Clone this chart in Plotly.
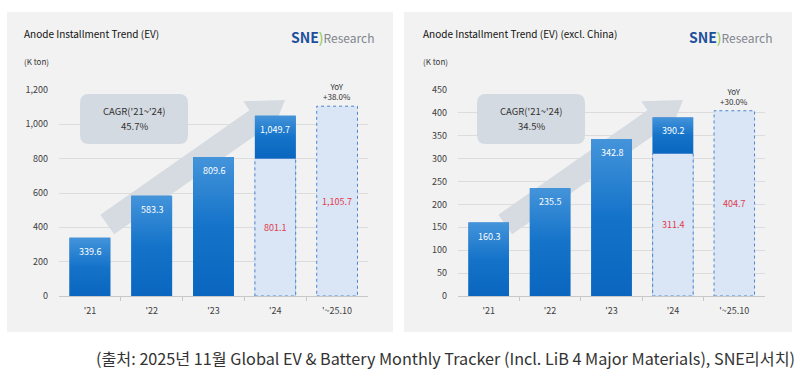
import math
import plotly.graph_objects as go

# ---------------- data ----------------
categories = ["'21", "'22", "'23", "'24", "'~25.10"]

ev_total = [339.6, 583.3, 809.6, 1049.7]      # '21 - '24 full year
ev_ytd = [801.1, 1105.7]                      # '24 (Jan-Oct), '25 (Jan-Oct)
ev_cagr = "45.7%"
ev_yoy = "+38.0%"
ev_yticks = [0, 200, 400, 600, 800, 1000, 1200]

exc_total = [160.3, 235.5, 342.8, 390.2]
exc_ytd = [311.4, 404.7]
exc_cagr = "34.5%"
exc_yoy = "+30.0%"
exc_yticks = [0, 50, 100, 150, 200, 250, 300, 350, 400, 450]

titles = ["Anode Installment Trend (EV)", "Anode Installment Trend (EV) (excl. China)"]
unit_label = "(K ton)"
cagr_label = "CAGR('21~'24)"
source_text = "(출처: 2025년 11월 Global EV & Battery Monthly Tracker (Incl. LiB 4 Major Materials), SNE리서치)"

# ---------------- style ----------------
W, H = 800, 378
FONT = "Noto Sans CJK KR"
BAR_W = 0.66
DARK = "#1270c6"
LIGHT = "#dae5f5"
OUTLINE = "#4a86cf"
RED = "#e23b4a"
PANEL = "#f2f2f2"
GRID = "#dcdcdc"
ARROW = "#d5dbe0"
BOX = "#d3dae1"


def pxx(x):
    return x / W


def pxy(y):
    return 1 - y / H


Y_TOP, Y_BOT = 90, 296
panels = [
    dict(xa="x", ya="y", dom=(59, 368), total=ev_total, ytd=ev_ytd, ymax=ev_yticks[-1],
         yticks=ev_yticks, cagr=ev_cagr, yoy=ev_yoy, off=0),
    dict(xa="x2", ya="y2", dom=(458, 765), total=exc_total, ytd=exc_ytd, ymax=exc_yticks[-1],
         yticks=exc_yticks, cagr=exc_cagr, yoy=exc_yoy, off=398),
]

fig = go.Figure()
shapes = []
annotations = []


def note(x, y, text, size, color="#333333", xanchor="center"):
    annotations.append(dict(x=pxx(x), y=pxy(y), xref="paper", yref="paper", text=text,
                            showarrow=False, xanchor=xanchor, yanchor="middle",
                            font=dict(family=FONT, size=size, color=color)))


# panel backgrounds
for x0, x1 in [(7, 393), (404, 792)]:
    shapes.append(dict(type="rect", xref="paper", yref="paper", x0=pxx(x0), x1=pxx(x1),
                       y0=pxy(332), y1=pxy(12), fillcolor=PANEL, line_width=0, layer="below"))

for k, p in enumerate(panels):
    xa, ya = p["xa"], p["ya"]
    n_tot = len(p["total"])
    tot_x = list(range(n_tot))
    ytd_x = [n_tot - 1, n_tot]

    def to_data(X, Y, p=p):
        d0, d1 = p["dom"]
        return (-0.5 + (X - d0) / (d1 - d0) * len(categories),
                (Y_BOT - Y) / (Y_BOT - Y_TOP) * p["ymax"])

    # arrow (decoration) defined in pixels relative to panel, converted to data coords
    ang = math.radians(35)
    d = (math.cos(ang), -math.sin(ang))
    pp = (math.sin(ang), math.cos(ang))
    T = (285 + p["off"], 100)
    B = (T[0] - 35 * d[0], T[1] - 35 * d[1])
    S = (B[0] - 182 * d[0], B[1] - 182 * d[1])
    pts = [
        (S[0] - 12 * pp[0], S[1] - 12 * pp[1]),
        (B[0] - 12 * pp[0], B[1] - 12 * pp[1]),
        (B[0] - 23 * pp[0], B[1] - 23 * pp[1]),
        T,
        (B[0] + 23 * pp[0], B[1] + 23 * pp[1]),
        (B[0] + 12 * pp[0], B[1] + 12 * pp[1]),
        (S[0] + 12 * pp[0], S[1] + 12 * pp[1]),
    ]
    dp = [to_data(*q) for q in pts]
    path = "M " + " L ".join(f"{a:.4f},{b:.4f}" for a, b in dp) + " Z"
    shapes.append(dict(type="path", xref=xa, yref=ya, path=path, fillcolor=ARROW,
                       line_width=0, layer="between"))

    # dark bars (full year)
    fig.add_trace(go.Bar(x=tot_x, y=p["total"], width=BAR_W, marker_color=DARK,
                         marker_line_width=0, xaxis=xa, yaxis=ya, hoverinfo="skip",
                         showlegend=False))
    # light bars (Jan-Oct)
    fig.add_trace(go.Bar(x=ytd_x, y=p["ytd"], width=BAR_W, marker_color=LIGHT,
                         marker_line_width=0, xaxis=xa, yaxis=ya, hoverinfo="skip",
                         showlegend=False))

    # gradient overlay on dark bar parts
    for i, v in zip(tot_x, p["total"]):
        lo = p["ytd"][0] if i == ytd_x[0] else 0
        fig.add_trace(go.Scatter(
            x=[i - BAR_W / 2, i + BAR_W / 2, i + BAR_W / 2, i - BAR_W / 2, i - BAR_W / 2],
            y=[lo, lo, v, v, lo], mode="none", fill="toself",
            fillgradient=dict(type="vertical",
                              colorscale=[[0, "#0a66bf"], [0.5, "#1473c9"], [1, "#4494da"]]),
            xaxis=xa, yaxis=ya, hoverinfo="skip", showlegend=False))
        annotations.append(dict(x=i, y=v, xref=xa, yref=ya, text=f"{v:,.1f}", showarrow=False,
                                xanchor="center", yanchor="top", yshift=-5,
                                font=dict(family=FONT, size=9, color="white")))

    # dotted outlines + red labels for Jan-Oct bars
    for i, v in zip(ytd_x, p["ytd"]):
        shapes.append(dict(type="rect", xref=xa, yref=ya, x0=i - BAR_W / 2, x1=i + BAR_W / 2,
                           y0=0, y1=v, line=dict(color=OUTLINE, width=1, dash="dot"),
                           fillcolor="rgba(0,0,0,0)", layer="above"))
        annotations.append(dict(x=i, y=v / 2, xref=xa, yref=ya, text=f"{v:,.1f}", showarrow=False,
                                xanchor="center", yanchor="middle",
                                font=dict(family=FONT, size=9, color=RED)))

    # YoY label
    annotations.append(dict(x=ytd_x[1], y=p["ytd"][1], xref=xa, yref=ya,
                            text=f"YoY<br>{p['yoy']}", showarrow=False, xanchor="center",
                            yanchor="bottom", yshift=2,
                            font=dict(family=FONT, size=8, color="#333333")))

    # CAGR box
    bx0, bx1, by0, by1, r = 80 + p["off"] - (1 if k else 0), 188 + p["off"] - (1 if k else 0), 94, 144, 9
    X0, X1, Y0, Y1 = pxx(bx0), pxx(bx1), pxy(by0), pxy(by1)
    rx, ry = r / W, r / H
    rpath = (f"M {X0+rx},{Y0} L {X1-rx},{Y0} Q {X1},{Y0} {X1},{Y0-ry} "
             f"L {X1},{Y1+ry} Q {X1},{Y1} {X1-rx},{Y1} L {X0+rx},{Y1} "
             f"Q {X0},{Y1} {X0},{Y1+ry} L {X0},{Y0-ry} Q {X0},{Y0} {X0+rx},{Y0} Z")
    shapes.append(dict(type="path", xref="paper", yref="paper", path=rpath, fillcolor=BOX,
                       line_width=0, layer="above"))
    cx = (bx0 + bx1) / 2
    note(cx, 111, cagr_label, 9.5)
    note(cx, 126, p["cagr"], 9.5)

    # titles, units, logo
    tx = 22 if k == 0 else 421
    note(tx, 33, titles[k], 10, "#111111", "left")
    note(tx, 62, unit_label, 8, "#333333", "left")
    lx = 376 if k == 0 else 774
    note(lx, 37,
         ('<b><span style="color:#1d4f9c;font-size:14px">SNE</span></b>'
          '<span style="color:#8cc63f;font-size:14px">)</span>'
          '<span style="color:#7f868d;font-size:12px">Research</span>'),
         12, "#7f868d", "right")

# source line
note(797, 358, source_text, 16.2, "#333333", "right")

tickfont = dict(family=FONT, size=9, color="#404040")
xcommon = dict(range=[-0.5, len(categories) - 0.5], tickvals=list(range(len(categories))),
               ticktext=categories, showgrid=False, zeroline=False, showline=True,
               linecolor="#c8c8c8", linewidth=1, ticks="", tickfont=tickfont,
               ticklabelstandoff=6, automargin=False,
               minor=dict(tickvals=[i + 0.5 for i in range(len(categories) - 1)],
                          ticks="outside", ticklen=4, tickcolor="#c8c8c8", showgrid=False),
               fixedrange=True)
ycommon = dict(showgrid=True, gridcolor=GRID, gridwidth=1, zeroline=False, showline=False,
               ticks="", tickfont=tickfont, tickformat=",", ticklabelstandoff=10,
               automargin=False,
               domain=[pxy(Y_BOT), pxy(Y_TOP)], fixedrange=True)

fig.update_layout(
    width=W, height=H, margin=dict(l=0, r=0, t=0, b=0, pad=0, autoexpand=False),
    paper_bgcolor="white", plot_bgcolor="rgba(0,0,0,0)",
    barmode="overlay", showlegend=False,
    xaxis=dict(xcommon, domain=[pxx(59), pxx(368)], anchor="y"),
    yaxis=dict(ycommon, range=[0, ev_yticks[-1]], tickvals=ev_yticks, anchor="x"),
    xaxis2=dict(xcommon, domain=[pxx(458), pxx(765)], anchor="y2"),
    yaxis2=dict(ycommon, range=[0, exc_yticks[-1]], tickvals=exc_yticks, anchor="x2"),
    shapes=shapes, annotations=annotations,
)

post = (
    "document.documentElement.style.margin='0';document.documentElement.style.padding='0';"
    "document.documentElement.style.overflow='hidden';"
    "document.body.style.margin='0';document.body.style.padding='0';"
    "document.body.style.overflow='hidden';document.body.style.height='378px';"
    "var g=document.getElementsByClassName('plotly-graph-div')[0];"
    "g.style.position='fixed';g.style.left='0px';g.style.top='0px';"
)
fig.write_html("out.html", config={"displayModeBar": False}, post_script=post)
